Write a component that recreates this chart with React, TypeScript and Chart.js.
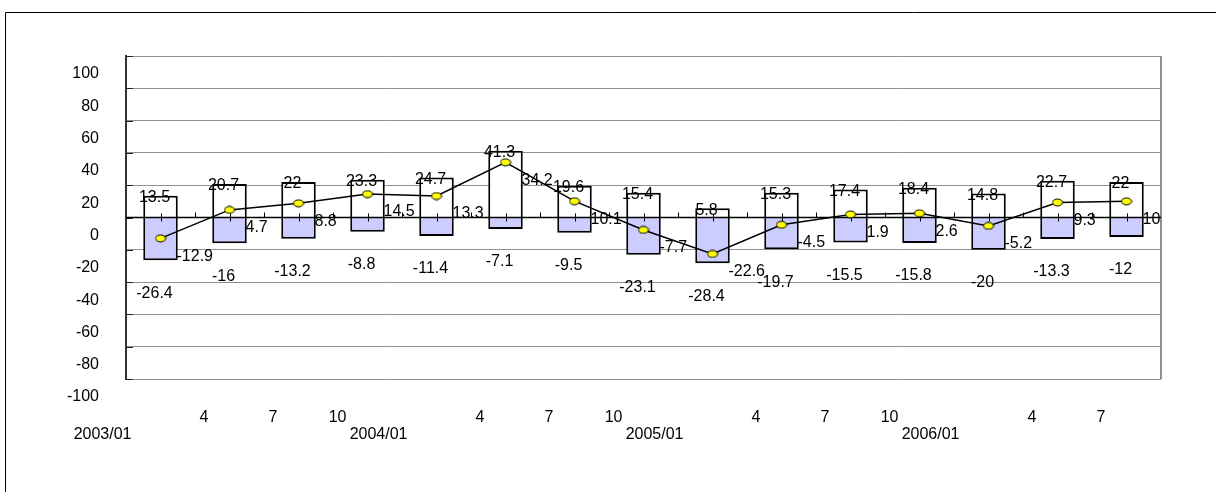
import { useEffect, useRef } from "react";
import { Chart, registerables } from "chart.js";

Chart.register(...registerables);

// Quarterly periods (category labels)
const periods = ["2003/01", "4", "7", "10", "2004/01", "4", "7", "10", "2005/01", "4", "7", "10", "2006/01", "4", "7"];
// Upper bars (positive contribution)
const gains = [13.5, 20.7, 22, 23.3, 24.7, 41.3, 19.6, 15.4, 5.8, 15.3, 17.4, 18.4, 14.8, 22.7, 22];
// Lower bars (negative contribution)
const losses = [-26.4, -16, -13.2, -8.8, -11.4, -7.1, -9.5, -23.1, -28.4, -19.7, -15.5, -15.8, -20, -13.3, -12];
// Net balance line
const net = [-12.9, 4.7, 8.8, 14.5, 13.3, 34.2, 10.1, -7.7, -22.6, -4.5, 1.9, 2.6, -5.2, 9.3, 10];
// Value axis range
const yMin = -100;
const yMax = 100;
const yStep = 20;

const FONT_FAMILY = '"Liberation Sans", Arial, sans-serif';
const FONT = `16px ${FONT_FAMILY}`;

const decorPlugin = {
  id: "decor",
  beforeDraw(chart: any) {
    const { ctx } = chart;
    ctx.save();
    ctx.strokeStyle = "#000";
    ctx.lineWidth = 1;
    ctx.beginPath();
    ctx.moveTo(5.5, chart.height);
    ctx.lineTo(5.5, 12.5);
    ctx.lineTo(chart.width, 12.5);
    ctx.stroke();
    ctx.restore();
  },
  beforeDatasetsDraw(chart: any) {
    const { ctx, chartArea, scales } = chart;
    const y = scales.y;
    ctx.save();
    // right border of plot area
    ctx.strokeStyle = "#8f8f8f";
    ctx.lineWidth = 2;
    ctx.beginPath();
    ctx.moveTo(chartArea.right, chartArea.top);
    ctx.lineTo(chartArea.right, chartArea.bottom);
    ctx.stroke();
    // short inner tick marks on the value axis
    ctx.strokeStyle = "#222";
    ctx.lineWidth = 1;
    for (let v = yMin; v <= yMax; v += yStep) {
      const py = Math.round(y.getPixelForValue(v)) + 0.5;
      ctx.beginPath();
      ctx.moveTo(chartArea.left, py);
      ctx.lineTo(chartArea.left + 7, py);
      ctx.stroke();
    }
    ctx.restore();
  },
  beforeDatasetDraw(chart: any, args: any) {
    if (args.meta.type !== "line") return;
    const { ctx, chartArea, scales } = chart;
    const x = scales.x;
    const y0 = scales.y.getPixelForValue(0);
    const half = (x.getPixelForValue(1) - x.getPixelForValue(0)) / 2;
    ctx.save();
    ctx.strokeStyle = "#000";
    ctx.lineWidth = 1.5;
    ctx.beginPath();
    ctx.moveTo(chartArea.left, y0);
    ctx.lineTo(chartArea.right, y0);
    ctx.stroke();
    ctx.lineWidth = 1;
    periods.forEach((_, i) => {
      const c = Math.round(x.getPixelForValue(i)) + 0.5;
      ctx.beginPath();
      ctx.moveTo(c, y0 - 4);
      ctx.lineTo(c, y0 + 4);
      ctx.stroke();
      const b = Math.round(x.getPixelForValue(i) + half) + 0.5;
      if (b < chartArea.right - 2) {
        ctx.beginPath();
        ctx.moveTo(b, y0 - 5);
        ctx.lineTo(b, y0);
        ctx.stroke();
      }
    });
    ctx.restore();
  },
  afterDraw(chart: any) {
    const { ctx, scales } = chart;
    const x = scales.x;
    const y = scales.y;
    ctx.save();
    ctx.font = FONT;
    ctx.fillStyle = "#000";
    ctx.textBaseline = "middle";

    // category labels, staggered in two rows
    ctx.textAlign = "right";
    periods.forEach((p, i) => {
      const c = x.getPixelForValue(i);
      if (p.includes("/")) ctx.fillText(p, c - 29, 435);
      else ctx.fillText(p, c - 21, 418);
    });

    // bar value labels
    ctx.textAlign = "center";
    gains.forEach((v, i) => {
      const c = x.getPixelForValue(i);
      ctx.fillText(String(v), c - 6, y.getPixelForValue(v) + 2);
    });
    losses.forEach((v, i) => {
      const c = x.getPixelForValue(i);
      ctx.fillText(String(v), c - 6, y.getPixelForValue(v) + 33);
    });

    // net line labels
    ctx.textAlign = "left";
    net.forEach((v, i) => {
      const c = x.getPixelForValue(i);
      ctx.fillText(String(v), c + 16, y.getPixelForValue(v) + 18);
    });
    ctx.restore();
  },
};

export default function App() {
  const canvasRef = useRef<HTMLCanvasElement | null>(null);

  useEffect(() => {
    const canvas = canvasRef.current;
    if (!canvas) return;

    const marker = document.createElement("canvas");
    marker.width = 12;
    marker.height = 9;
    const m = marker.getContext("2d")!;
    m.beginPath();
    m.ellipse(6, 4.5, 5, 3.5, 0, 0, Math.PI * 2);
    m.fillStyle = "#ffff00";
    m.fill();
    m.lineWidth = 1;
    m.strokeStyle = "#000";
    m.stroke();

    const chart = new Chart(canvas, {
      data: {
        labels: periods,
        datasets: [
          {
            type: "line",
            label: "net",
            data: net,
            stack: "net",
            borderColor: "#000",
            borderWidth: 1.5,
            tension: 0,
            pointStyle: marker,
            pointRadius: 5,
          } as any,
          {
            type: "bar",
            label: "gains",
            data: gains,
            stack: "bars",
            backgroundColor: "#ffffff",
            borderColor: "#000",
            borderWidth: 2,
            borderSkipped: "start",
            barPercentage: 0.5,
            categoryPercentage: 1,
          },
          {
            type: "bar",
            label: "losses",
            data: losses,
            stack: "bars",
            backgroundColor: "#ccccff",
            borderColor: "#000",
            borderWidth: 2,
            borderSkipped: "start",
            barPercentage: 0.5,
            categoryPercentage: 1,
          },
        ],
      },
      options: {
        responsive: false,
        animation: false,
        events: [],
        layout: { padding: { left: 0, top: 56, right: 55, bottom: 0 } },
        plugins: { legend: { display: false }, tooltip: { enabled: false } },
        scales: {
          x: {
            type: "category",
            offset: true,
            stacked: true,
            grid: { display: false },
            border: { display: false },
            ticks: { display: false },
            afterFit: (s: any) => {
              s.height = 113;
            },
          },
          y: {
            stacked: true,
            min: yMin,
            max: yMax,
            ticks: {
              stepSize: yStep,
              labelOffset: 18,
              padding: 27,
              color: "#000",
              font: { family: FONT_FAMILY, size: 16 },
            },
            grid: { color: "#8f8f8f", lineWidth: 1, drawTicks: false },
            border: { color: "#333", width: 2 },
            afterFit: (s: any) => {
              s.width = 126;
            },
          },
        },
      },
      plugins: [decorPlugin],
    });

    return () => chart.destroy();
  }, []);

  return (
    <div style={{ position: "fixed", left: 0, top: 0, width: 1216, height: 492, background: "#fff" }}>
      <canvas ref={canvasRef} width={1216} height={492} style={{ display: "block" }} />
    </div>
  );
}
